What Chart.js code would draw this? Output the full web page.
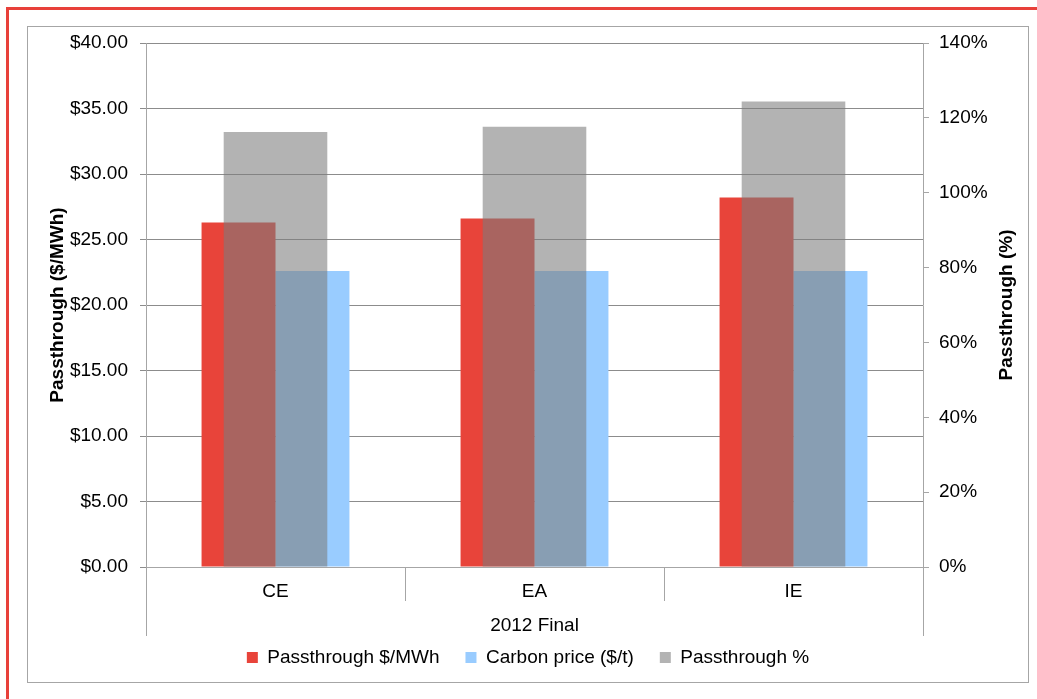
<!DOCTYPE html>
<html>
<head>
<meta charset="utf-8">
<script src="https://cdn.jsdelivr.net/npm/chart.js@4.4.1/dist/chart.umd.min.js"></script>
<style>
    body { margin: 0; background: #ffffff; }
    #page { position: relative; width: 1037px; height: 699px; overflow: hidden; }
    /* red frame on top and left */
    #redFrame { position: absolute; left: 6px; top: 7px; width: 1040px; height: 700px;
        border-top: 3px solid #e8403a; border-left: 3px solid #e8403a; }
    /* gray chart border */
    #chartFrame { position: absolute; left: 27px; top: 26px; width: 1000px; height: 655px;
        border: 1px solid #a6a6a6; }
    #wrap { position: absolute; left: 28px; top: 27px; width: 1000px; height: 654px; }
</style>
</head>
<body>
<div id="page">
    <div id="redFrame"></div>
    <div id="chartFrame"></div>
    <div id="wrap"><canvas id="graph1" width="1000" height="654"></canvas></div>
</div>
<script>
// Chart data --------------------------------------------------
let regions = ["CE", "EA", "IE"];
let passthroughDollar = [26.3, 26.6, 28.2];
let carbonPrice = [22.6, 22.6, 22.6];
let passthroughPercent = [116.2, 117.6, 124.4];

let dollarTicks = {min: 0, max: 40, step: 5};
let percentTicks = {min: 0, max: 140, step: 20};

let fontName = "'Liberation Sans', Arial, sans-serif";
let axisGray = '#a6a6a6';
let gridGray = '#8c8c8c';

// Draw the extra separators for the two-level category axis
// and the right axis title (reads bottom to top like the left one)
let axisExtras = {
    id: 'axisExtras',
    afterDraw(chart) {
        let ctx = chart.ctx;
        let area = chart.chartArea;

        ctx.save();
        ctx.strokeStyle = axisGray;
        ctx.lineWidth = 1;
        ctx.beginPath();
        ctx.moveTo(Math.round(area.left) + 0.5, area.bottom);
        ctx.lineTo(Math.round(area.left) + 0.5, area.bottom + 69);
        ctx.moveTo(Math.round(area.right) + 0.5, area.bottom);
        ctx.lineTo(Math.round(area.right) + 0.5, area.bottom + 69);
        ctx.stroke();

        ctx.translate(area.right + 84, (area.top + area.bottom) / 2);
        ctx.rotate(-Math.PI / 2);
        ctx.fillStyle = '#000000';
        ctx.font = "bold 19px " + fontName;
        ctx.textAlign = 'center';
        ctx.textBaseline = 'middle';
        ctx.fillText("Passthrough (%)", 0, 0);
        ctx.restore();
    }
};

// Fixed axis widths; the top label may overhang the plot edge
function fixWidth(width) {
    return (scale) => {
        scale.width = width;
        scale.paddingTop = 0;
    };
}

let dataGraph = {
    type: 'bar',
    data: {
        labels: regions,
        datasets: [{
            label: "Passthrough $/MWh",
            data: passthroughDollar,
            backgroundColor: 'rgb(232,68,58)',
            yAxisID: 'y',
            categoryPercentage: 0.571,
            barPercentage: 1.0
        }, {
            label: "Carbon price ($/t)",
            data: carbonPrice,
            backgroundColor: '#99ccff',
            yAxisID: 'y',
            categoryPercentage: 0.571,
            barPercentage: 1.0
        }, {
            // wide translucent bar centred on each category, on top of the others
            label: "Passthrough %",
            data: passthroughPercent,
            backgroundColor: 'rgba(124,124,124,0.58)',
            yAxisID: 'y2',
            grouped: false,
            categoryPercentage: 0.40,
            barPercentage: 1.0,
            order: -1
        }]
    },
    options: {
        responsive: false,
        animation: false,
        layout: {padding: {left: 0, right: 0, top: 16, bottom: 4}},
        plugins: {
            tooltip: {enabled: false},
            legend: {
                position: 'bottom',
                labels: {
                    boxWidth: 11,
                    boxHeight: 11,
                    padding: 26,
                    color: '#000000',
                    font: {family: fontName, size: 19},
                    sort: (a, b) => a.datasetIndex - b.datasetIndex
                }
            }
        },
        scales: {
            x: {
                type: 'category',
                position: 'bottom',
                offset: true,
                afterFit: (scale) => { scale.height = 55; },
                grid: {
                    offset: true,
                    drawOnChartArea: false,
                    drawTicks: true,
                    tickLength: 34,
                    color: axisGray
                },
                border: {color: axisGray},
                ticks: {
                    color: '#000000',
                    padding: -21,
                    font: {family: fontName, size: 19}
                },
                title: {
                    display: true,
                    text: "2012 Final",
                    color: '#000000',
                    font: {family: fontName, size: 19},
                    padding: {top: 0, bottom: -15}
                }
            },
            y: {
                position: 'left',
                min: dollarTicks.min,
                max: dollarTicks.max,
                afterFit: fixWidth(118),
                grid: {color: gridGray, tickLength: 6},
                border: {color: axisGray},
                ticks: {
                    stepSize: dollarTicks.step,
                    padding: 12,
                    color: '#000000',
                    font: {family: fontName, size: 19},
                    callback: (v) => '$' + v.toFixed(2)
                },
                title: {
                    display: true,
                    text: "Passthrough ($/MWh)",
                    color: '#000000',
                    font: {family: fontName, size: 19, weight: 'bold'},
                    padding: {top: 18, bottom: 0}
                }
            },
            y2: {
                position: 'right',
                min: percentTicks.min,
                max: percentTicks.max,
                afterFit: fixWidth(105),
                grid: {drawOnChartArea: false, color: axisGray, tickLength: 6},
                border: {color: axisGray},
                ticks: {
                    stepSize: percentTicks.step,
                    padding: 10,
                    color: '#000000',
                    font: {family: fontName, size: 19},
                    callback: (v) => v + '%'
                }
            }
        }
    },
    plugins: [axisExtras]
};

let canvas1 = document.getElementById('graph1').getContext("2d");
let chart1 = new Chart(canvas1, dataGraph);
</script>
</body>
</html>
